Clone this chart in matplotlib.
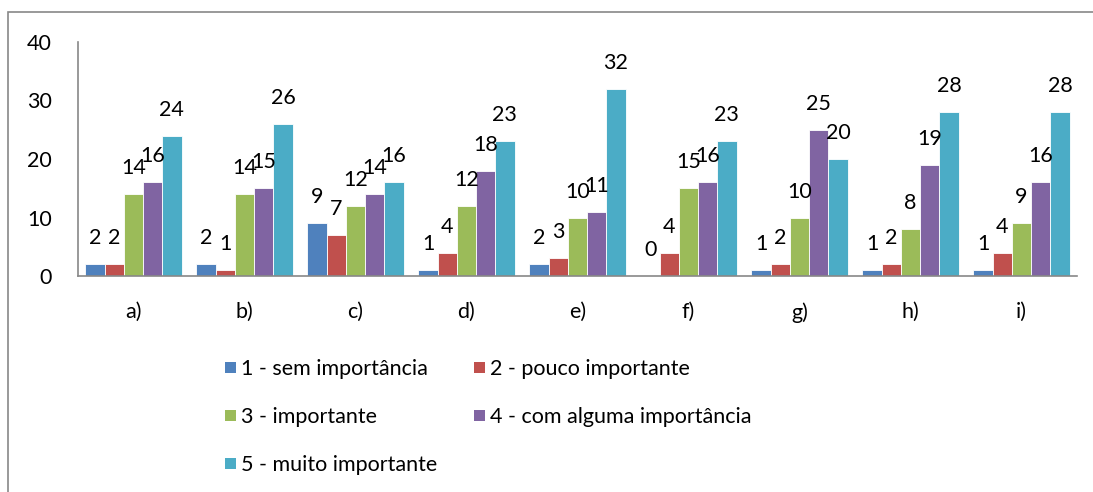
import matplotlib
matplotlib.use("Agg")
import matplotlib.pyplot as plt
from matplotlib.patches import Rectangle
import numpy as np

plt.rcParams['font.family'] = ['Lato', 'DejaVu Sans']

categories = ["a)", "b)", "c)", "d)", "e)", "f)", "g)", "h)", "i)"]
series_names = ["1 - sem importância", "2 - pouco importante", "3 - importante",
                "4 - com alguma importância", "5 - muito importante"]
s1 = [2, 2, 9, 1, 2, 0, 1, 1, 1]
s2 = [2, 1, 7, 4, 3, 4, 2, 2, 4]
s3 = [14, 14, 12, 12, 10, 15, 10, 8, 9]
s4 = [16, 15, 14, 18, 11, 16, 25, 19, 16]
s5 = [24, 26, 16, 23, 32, 23, 20, 28, 28]
series = [s1, s2, s3, s4, s5]
colors = ["#4F81BD", "#C0504D", "#9BBB59", "#8064A2", "#4BACC6"]
yticks = [0, 10, 20, 30, 40]

W, H = 1093, 492
fig = plt.figure(figsize=(W / 100, H / 100), dpi=100)
ax = fig.add_axes([78 / W, 1 - 276 / H, (1077 - 78) / W, (276 - 42) / H])

fs = 15.5
px2pt = 72 / 100
x = np.arange(len(categories))
bw = 0.173
for i, (vals, col) in enumerate(zip(series, colors)):
    pos = x + (i - 2) * bw
    ax.bar(pos, vals, width=bw, color=col, edgecolor="white", linewidth=0.6, zorder=2)
    for px, v in zip(pos, vals):
        ax.annotate(str(v), (px, v), xytext=(0, 26), textcoords="offset pixels",
                    ha="center", va="center", fontsize=fs, color="black")

ax.set_xlim(-0.5, len(categories) - 0.5)
ax.set_ylim(0, 40)
ax.set_yticks(yticks)
ax.set_yticklabels([str(t) for t in yticks], fontsize=fs)
ax.set_xticks(x)
ax.set_xticklabels(categories, fontsize=fs)
ax.tick_params(axis="both", length=0)
ax.tick_params(axis="y", pad=26 * px2pt)
ax.tick_params(axis="x", pad=26 * px2pt)
for side in ("top", "right"):
    ax.spines[side].set_visible(False)
for side in ("left", "bottom"):
    ax.spines[side].set_color("#888888")
    ax.spines[side].set_linewidth(1.2)

# legend laid out row by row in two columns
col_x = [225, 474]
row_y = [367, 415, 463]
sq = 11
for i, (name, col) in enumerate(zip(series_names, colors)):
    cx = col_x[i % 2]
    cy = row_y[i // 2]
    fig.add_artist(Rectangle((cx / W, 1 - (cy + sq / 2) / H), sq / W, sq / H,
                             transform=fig.transFigure, color=col, lw=0))
    fig.text((cx + sq + 5) / W, 1 - cy / H, name, fontsize=fs,
             ha="left", va="center_baseline")

# outer chart frame
fig.add_artist(Rectangle((8 / W, -0.2), 1.2, 1.2 - 12 / H,
                         transform=fig.transFigure, fill=False,
                         edgecolor="#888888", lw=1.2))

fig.savefig("out.png", dpi=100)
